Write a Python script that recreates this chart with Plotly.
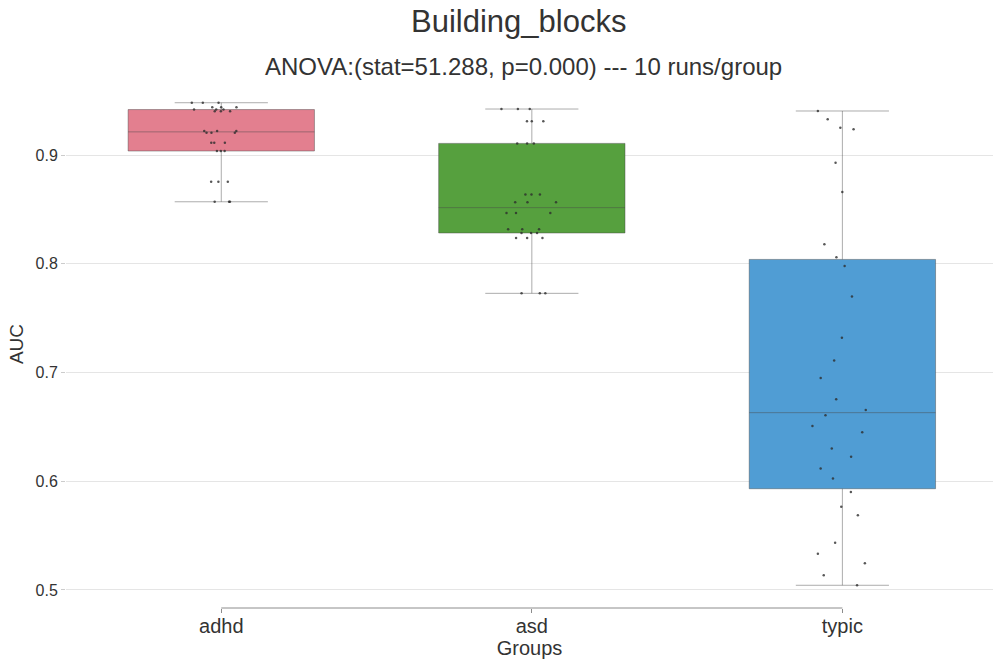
import numpy as np
import plotly.graph_objects as go

# AUC per group: 10 runs x 3 folds each
groups = ["adhd", "asd", "typic"]

adhd_auc = [0.9481, 0.9481, 0.9481, 0.9439, 0.9439, 0.9439,
            0.9418, 0.9418, 0.9418, 0.9402, 0.9402, 0.9402,
            0.9221, 0.9221, 0.9221, 0.9205, 0.9205, 0.9205,
            0.9113, 0.9113, 0.9113, 0.9037, 0.9037, 0.9037,
            0.8755, 0.8755, 0.8755, 0.8570, 0.8570, 0.8570]

asd_auc = [0.9423, 0.9423, 0.9423, 0.9310, 0.9310, 0.9310,
           0.9107, 0.9107, 0.9107, 0.8638, 0.8638, 0.8638,
           0.8565, 0.8565, 0.8565, 0.8467, 0.8467, 0.8467,
           0.8317, 0.8317, 0.8317, 0.8283, 0.8283, 0.8283,
           0.8237, 0.8237, 0.8237, 0.7728, 0.7728, 0.7728]

typic_auc = [0.9405, 0.9330, 0.9250, 0.9236, 0.8930, 0.8660,
             0.8180, 0.8060, 0.7980, 0.7700, 0.7320, 0.7110,
             0.6950, 0.6754, 0.6655, 0.6606, 0.6508, 0.6450,
             0.6300, 0.6226, 0.6116, 0.6024, 0.5900, 0.5766,
             0.5687, 0.5435, 0.5334, 0.5245, 0.5135, 0.5043]

y_ticks = [0.5, 0.6, 0.7, 0.8, 0.9]

title_text = "Building_blocks"
subtitle_text = "ANOVA:(stat=51.288, p=0.000) --- 10 runs/group"

fill_colors = ["#E37F8F", "#56A03E", "#509DD4"]
series = [adhd_auc, asd_auc, typic_auc]

FONT = "Liberation Sans, Arial, sans-serif"
TEXT = "#333333"


def box_stats(vals):
    """Quartiles (numpy linear interpolation) and 1.5*IQR whisker ends."""
    arr = np.asarray(vals)
    q1, med, q3 = np.percentile(arr, [25, 50, 75])
    iqr = q3 - q1
    lo = arr[arr >= q1 - 1.5 * iqr].min()
    hi = arr[arr <= q3 + 1.5 * iqr].max()
    return q1, med, q3, lo, hi


fig = go.Figure()
for name, vals, col in zip(groups, series, fill_colors):
    q1, med, q3, lo, hi = box_stats(vals)
    fig.add_trace(go.Box(
        x=[name], q1=[q1], median=[med], q3=[q3],
        lowerfence=[lo], upperfence=[hi],
        name=name,
        boxpoints=False,
        width=0.6,
        whiskerwidth=0.5,
        fillcolor=col,
        line=dict(color="rgba(70,70,70,0.45)", width=1),
        hoverinfo="skip",
    ))

# jittered strip of the individual runs on top of the boxes
for name, vals in zip(groups, series):
    fig.add_trace(go.Box(
        x=[name] * len(vals),
        y=vals,
        name=name,
        boxpoints="all",
        jitter=0.35,
        pointpos=0,
        width=0.6,
        fillcolor="rgba(0,0,0,0)",
        line=dict(color="rgba(0,0,0,0)", width=0),
        marker=dict(color="rgba(45,45,45,0.8)", size=2.5),
        hoverinfo="y",
    ))

# trimmed bottom spine spanning the first to the last category
fig.add_shape(type="line", xref="x", yref="paper",
              x0=0, x1=len(groups) - 1, y0=0, y1=0,
              line=dict(color="#8c8c8c", width=1))

fig.add_annotation(text=title_text, xref="paper", yref="paper",
                   x=(518 - 66) / 927, y=1 + (80 - 22) / 528,
                   showarrow=False, xanchor="center", yanchor="middle",
                   font=dict(family=FONT, size=31, color=TEXT))
fig.add_annotation(text=subtitle_text, xref="paper", yref="paper",
                   x=(523 - 66) / 927, y=1 + (80 - 67) / 528,
                   showarrow=False, xanchor="center", yanchor="middle",
                   font=dict(family=FONT, size=24, color=TEXT))

fig.update_layout(
    width=993, height=662,
    margin=dict(l=66, r=0, t=80, b=54),
    paper_bgcolor="white", plot_bgcolor="white",
    showlegend=False,
    boxmode="overlay",
    font=dict(family=FONT, color=TEXT),
    xaxis=dict(
        type="category",
        range=[-0.5, 2.485],
        showgrid=False, showline=False, zeroline=False,
        ticks="outside", ticklen=4, tickcolor="#8c8c8c", tickwidth=1,
        ticklabelstandoff=-4,
        tickfont=dict(size=20, color=TEXT),
        title=dict(text="Groups", font=dict(size=20, color=TEXT), standoff=0),
    ),
    yaxis=dict(
        range=[0.4834, 0.969],
        tickvals=y_ticks,
        tickformat=".1f",
        showgrid=True, gridcolor="#e5e5e5", gridwidth=1,
        showline=False, zeroline=False,
        ticks="outside", ticklen=4, tickcolor="#cccccc",
        tickfont=dict(size=16, color=TEXT),
        title=dict(text="AUC", font=dict(size=19, color=TEXT), standoff=6),
    ),
)

fig.write_html("out.html")
